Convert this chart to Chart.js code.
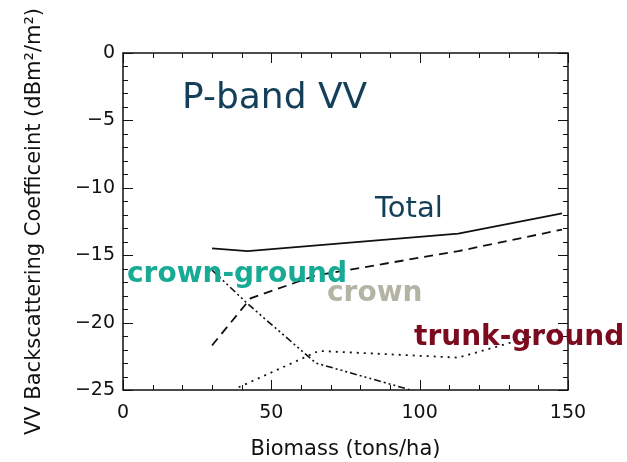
<!DOCTYPE html>
<html>
<head>
<meta charset="utf-8">
<script src="https://cdn.jsdelivr.net/npm/chart.js@4/dist/chart.umd.min.js"></script>
<style>
  html, body { margin: 0; padding: 0; background: #fff; }
  #wrap { width: 627px; height: 462px; position: relative; }
</style>
</head>
<body>
<div id="wrap"><canvas id="grafico"></canvas></div>
<script>
// P-band VV backscatter components vs biomass
var totalX = [30, 42, 113, 148];
var totalY = [-14.5, -14.7, -13.4, -11.9];

var crownX = [30, 43, 65, 113, 148];
var crownY = [-21.7, -18.2, -16.5, -14.7, -13.1];

var crownGroundX = [30, 42, 65, 113];
var crownGroundY = [-16.1, -18.6, -23.0, -26.0];

var trunkGroundX = [39, 66, 113, 148];
var trunkGroundY = [-24.8, -22.1, -22.6, -20.4];

var xTicks = [0, 50, 100, 150];
var yTicks = [-25, -20, -15, -10, -5, 0];

function puntos(xs, ys) {
  return xs.map(function (x, i) { return { x: x, y: ys[i] }; });
}

var FONT = "'DejaVu Sans', Verdana, sans-serif";

// frame on all four sides with inward ticks (minor + major)
var marco = {
  id: "marco",
  afterDatasetsDraw: function (chart) {
    var ctx = chart.ctx, a = chart.chartArea, sx = chart.scales.x, sy = chart.scales.y;
    ctx.save();
    ctx.strokeStyle = "#111";
    ctx.lineWidth = 1.5;
    ctx.strokeRect(a.left, a.top, a.right - a.left, a.bottom - a.top);
    ctx.lineWidth = 1;
    ctx.beginPath();
    for (var v = 0; v <= 150; v += 10) {
      var px = Math.round(sx.getPixelForValue(v)) + 0.5;
      var len = v % 50 === 0 ? 10 : 5;
      ctx.moveTo(px, a.bottom); ctx.lineTo(px, a.bottom - len);
      ctx.moveTo(px, a.top); ctx.lineTo(px, a.top + len);
    }
    for (var w = -25; w <= 0; w += 1) {
      var py = Math.round(sy.getPixelForValue(w)) + 0.5;
      var l2 = w % 5 === 0 ? 10 : 5;
      ctx.moveTo(a.left, py); ctx.lineTo(a.left + l2, py);
      ctx.moveTo(a.right, py); ctx.lineTo(a.right - l2, py);
    }
    ctx.stroke();
    ctx.restore();
  }
};

// band title and component names
var rotulos = {
  id: "rotulos",
  afterDraw: function (chart) {
    var ctx = chart.ctx;
    ctx.save();
    ctx.textAlign = "left";
    ctx.textBaseline = "alphabetic";
    ctx.fillStyle = "#133f59";
    ctx.font = "36px " + FONT;
    ctx.fillText("P-band VV", 182, 108);
    ctx.font = "29px " + FONT;
    ctx.fillText("Total", 375, 217);
    ctx.font = "bold 28px " + FONT;
    ctx.fillStyle = "#17aa94";
    ctx.fillText("crown-ground", 127, 282);
    ctx.fillStyle = "#b4b4a4";
    ctx.fillText("crown", 327, 301);
    ctx.fillStyle = "#7d0b1f";
    ctx.fillText("trunk-ground", 414, 345);
    ctx.restore();
  }
};

new Chart(document.getElementById("grafico"), {
  type: "line",
  data: {
    datasets: [{
      label: "Total",
      data: puntos(totalX, totalY),
      borderColor: "#111",
      borderWidth: 1.8
    }, {
      label: "crown",
      data: puntos(crownX, crownY),
      borderColor: "#111",
      borderWidth: 1.8,
      borderDash: [9, 6]
    }, {
      label: "crown-ground",
      data: puntos(crownGroundX, crownGroundY),
      borderColor: "#111",
      borderWidth: 1.6,
      borderDash: [7, 3, 2, 3, 2, 3, 2, 3]
    }, {
      label: "trunk-ground",
      data: puntos(trunkGroundX, trunkGroundY),
      borderColor: "#111",
      borderWidth: 1.8,
      borderDash: [2, 5]
    }]
  },
  options: {
    responsive: true,
    maintainAspectRatio: false,
    animation: false,
    layout: { padding: { left: 0, top: 53, right: 59, bottom: 0 } },
    elements: { point: { radius: 0 }, line: { tension: 0 } },
    plugins: {
      legend: { display: false },
      tooltip: { enabled: false }
    },
    scales: {
      x: {
        type: "linear",
        min: 0,
        max: 150,
        afterBuildTicks: function (scale) {
          scale.ticks = xTicks.map(function (v) { return { value: v }; });
        },
        afterFit: function (scale) { scale.height = 72; },
        grid: { display: false, drawTicks: false },
        border: { display: false },
        ticks: {
          padding: 12,
          color: "#111",
          font: { family: FONT, size: 19 },
          maxRotation: 0
        },
        title: {
          display: true,
          text: "Biomass (tons/ha)",
          color: "#111",
          font: { family: FONT, size: 21 },
          padding: { top: 0, bottom: 0 }
        }
      },
      y: {
        min: -25,
        max: 0,
        afterBuildTicks: function (scale) {
          scale.ticks = yTicks.map(function (v) { return { value: v }; });
        },
        afterFit: function (scale) { scale.width = 123; },
        grid: { display: false, drawTicks: false },
        border: { display: false },
        ticks: {
          padding: 8,
          color: "#111",
          font: { family: FONT, size: 19 },
          callback: function (v) { return v < 0 ? "\u2212" + Math.abs(v) : String(v); }
        },
        title: {
          display: true,
          text: "VV Backscattering Coefficeint (dBm\u00b2/m\u00b2)",
          color: "#111",
          font: { family: FONT, size: 21 },
          padding: { top: 22, bottom: 0 }
        }
      }
    }
  },
  plugins: [marco, rotulos]
});
</script>
</body>
</html>
